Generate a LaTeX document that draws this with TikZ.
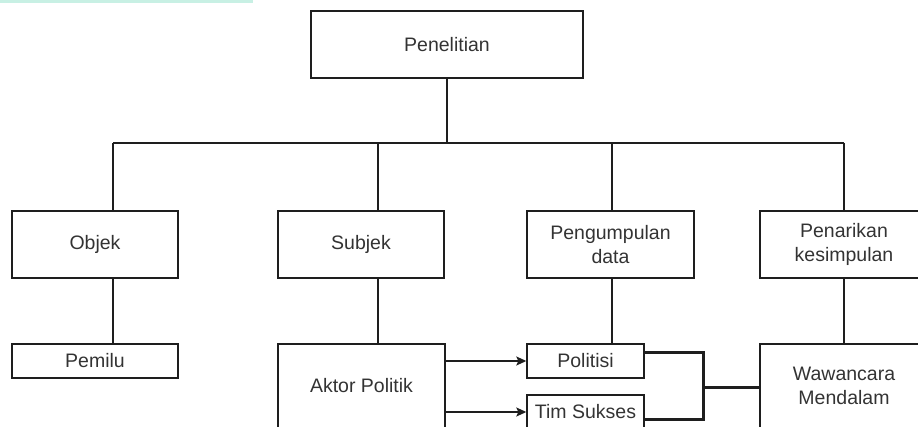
\documentclass[tikz,border=0pt]{standalone}
\usepackage{fontspec}
\setmainfont{Liberation Sans}
\usetikzlibrary{arrows.meta}
\definecolor{ln}{HTML}{1E1E1E}
\definecolor{tx}{HTML}{333333}
\definecolor{mint}{RGB}{200,240,228}
\begin{document}
\begin{tikzpicture}[x=1pt,y=-1pt,
  box/.style={draw=ln, line width=1.4pt, text=tx, font=\fontsize{19.5}{24}\selectfont, align=center, inner sep=0pt},
  link/.style={draw=ln, line width=1.3pt},
  thickline/.style={draw=ln, line width=3pt},
  tip/.style={-{Stealth[length=10pt,width=9pt,inset=2pt]}}
  ]
\useasboundingbox (0,0) rectangle (918,427);
\clip (0,0) rectangle (918,427);
\fill[mint] (0,0) rectangle (253,3);

\node[box, minimum width=272pt, minimum height=67pt] (pen) at (447,44.5) {Penelitian};
\node[box, minimum width=166pt, minimum height=67pt] (obj) at (95,244.5) {Objek};
\node[box, minimum width=166pt, minimum height=67pt] (sub) at (361,244.5) {Subjek};
\node[box, minimum width=167pt, minimum height=67pt] (pgd) at (610.5,244.5) {Pengumpulan\\data};
\node[box, minimum width=168pt, minimum height=67pt] (pnk) at (844,244.5) {Penarikan\\kesimpulan};
\node[box, minimum width=166pt, minimum height=34pt] (pml) at (95,361) {Pemilu};
\node[box, minimum width=167pt, minimum height=84pt] (akt) at (361.5,386) {Aktor Politik};
\node[box, minimum width=117pt, minimum height=34pt] (pol) at (585.5,361) {Politisi};
\node[box, minimum width=117pt, minimum height=34pt] (tim) at (585.5,412) {Tim Sukses};
\node[box, minimum width=168pt, minimum height=84pt] (waw) at (844,386) {Wawancara\\Mendalam};

\coordinate (b0) at (447,143);
\coordinate (b1) at (113,143);
\coordinate (b2) at (378,143);
\coordinate (b3) at (612,143);
\coordinate (b4) at (844,143);
\coordinate (j) at (703,387);

\draw[link] (pen.south) -- (b0);
\draw[link] (b1) -- (b4);
\draw[link] (b1) -- (b1 |- obj.north);
\draw[link] (b2) -- (b2 |- sub.north);
\draw[link] (b3) -- (b3 |- pgd.north);
\draw[link] (b4) -- (pnk.north);
\draw[link] (b1 |- obj.south) -- (b1 |- pml.north);
\draw[link] (b2 |- sub.south) -- (b2 |- akt.north);
\draw[link] (b3 |- pgd.south) -- (b3 |- pol.north);
\draw[link] (pnk.south) -- (waw.north);

\draw[link, tip] (akt.east |- pol.west) -- (pol.west);
\draw[link, tip] (akt.east |- tim.west) -- (tim.west);

\draw[thickline] ([yshift=8pt]pol.east) -| (j) |- ([yshift=-7pt]tim.east);
\draw[thickline] (j) -- (j -| waw.west);
\end{tikzpicture}
\end{document}
